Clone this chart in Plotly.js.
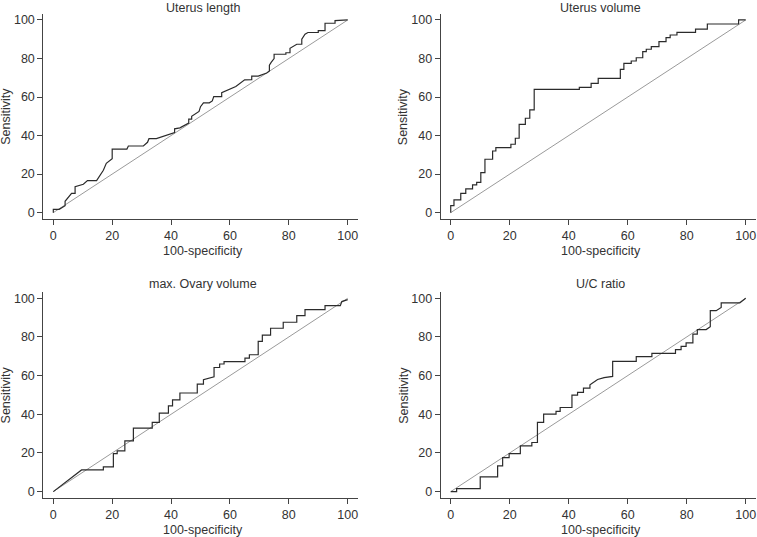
<!DOCTYPE html>
<html>
<head>
<meta charset="utf-8">
<script src="https://cdn.plot.ly/plotly-3.0.1.min.js"></script>
<style>html,body{margin:0;padding:0;background:#fff;}#chart{width:757px;height:537px;}</style>
</head>
<body>
<div id="chart"></div>
<script>
// ---- Data ----
const panelTitles = ["Uterus length", "Uterus volume", "max. Ovary volume", "U/C ratio"];
const xTitle = "100-specificity";
const yTitle = "Sensitivity";
const tickVals = [0, 20, 40, 60, 80, 100];
const refX = [0, 100];
const refY = [0, 100];

// Uterus length ROC (100-specificity, sensitivity)
const lengthX = [0,0,2,4,4,6.2,7.4,7.4,10.2,11.6,14.7,17,18,19.6,20,20,25,25.5,30.6,32,32.5,35,40,41.2,41.2,43,46,46,47,47,49.5,50,51,53,54,54.5,57.2,57.2,62,65,67.4,67.4,69.6,72.5,73.4,73.4,74,75,75,79,79,80.4,80.4,82.7,84.4,84.4,85.5,86.5,90,90,92.3,92.3,95.7,95.7,100];
const lengthY = [0,1.7,1.7,3.6,5.9,10,10,13.5,14.7,16.6,16.6,22,25.6,27.7,28,33,33,34.6,34.6,36.5,38.4,38.4,41,41.5,43.5,44,46.5,48.5,48.5,50,52.5,55,57,57,58,60.2,60.2,62.3,65.5,68.9,69,70.9,70.9,72.5,73.5,76.5,78,80,82.2,82.2,83,83,85.3,87.4,87.4,90,92.6,93.5,93.5,94.5,94.5,98.3,98.3,99.7,100];

// Uterus volume ROC (step points, horizontal then vertical)
const volumeX = [0,0,1.1,3.4,5.1,7.4,8.8,10.2,11.6,14.2,15.3,20.4,21.9,23.2,25.3,26.8,28.3,43.6,47.6,50,57.5,58.7,61.2,62.9,65.1,66.3,68,70.6,73,74.4,76.7,83,87,97.6,100];
const volumeY = [0,3.6,6.6,10,12.3,14.4,15.7,20.8,27.7,32,33.7,35.5,38.6,45.8,49,53.3,64,65,67.1,69.7,74.4,77.5,78.7,80.4,83.6,84.8,86.2,88.8,90.8,92.2,93.6,95.2,97.9,100,100];

// max. Ovary volume ROC
const ovaryX = [0,9.6,17,17,20.4,20.4,21.7,21.7,24.3,24.3,27.2,27.2,33.6,33.6,36,36,39.1,39.1,40.5,40.5,43,43,48.9,48.9,51,51,54.6,54.6,56.5,56.5,58,58,65.1,65.1,66.6,66.6,69.6,69.6,71,71,73.8,73.8,78.1,78.1,82.7,82.7,85.5,85.5,92.3,92.3,97.5,98,100];
const ovaryY = [0,11.2,11.2,12.8,12.8,19.7,19.7,21.1,21.1,26.3,26.3,32.8,32.8,35.8,35.8,40.6,40.6,44.4,44.4,47.5,47.5,51,51,55.6,55.6,57.9,59.4,64.2,64.2,66,66,67.2,67.2,69.1,69.1,70.8,70.8,77.7,77.7,81,81,84.5,84.5,87.6,87.6,91,91,94.1,94.1,96.2,96.2,98.3,99.3];

// U/C ratio ROC
const ratioX = [0,2,2,10,10,15.9,15.9,17.6,17.6,19.8,19.8,23.6,23.6,27.5,27.5,29.4,29.4,31.5,31.5,35.7,35.7,37.1,37.1,41.1,41.1,43,43,45,45,47.2,47.2,49.8,52,54.9,54.9,62.9,62.9,68.2,68.2,76.2,76.2,78.1,78.1,79.8,79.8,82.1,82.1,83.6,83.6,86.6,88,88,90,91.7,91.7,98,100];
const ratioY = [0,0,1.6,1.6,7.6,7.6,13.3,13.3,17.6,17.6,19.7,19.7,23.7,23.7,25.4,25.4,35.8,35.8,40.1,40.1,41.5,41.5,43.5,43.5,49.9,49.9,51.3,51.3,53.5,53.5,55.3,58,59,59.6,67.4,67.4,69.8,69.8,71.5,71.5,73.4,73.4,75.1,75.1,76.9,76.9,81.5,81.5,83.8,83.8,85.3,93.6,93.6,95.3,97.6,97.6,100];

// ---- Layout helpers ----
const W = 757, H = 537;
const px = v => v / W;
const py = v => 1 - v / H;
const curveColor = "#2b2b2b";
const refColor = "#9a9a9a";
const textColor = "#333333";
const font = {family: "Liberation Sans, Arial, sans-serif", size: 12.5, color: textColor};

const series = [[lengthX, lengthY, "linear"], [volumeX, volumeY, "hv"], [ovaryX, ovaryY, "linear"], [ratioX, ratioY, "linear"]];
const traces = [];
series.forEach((s, i) => {
  const ax = i === 0 ? "" : String(i + 1);
  traces.push({x: refX, y: refY, xaxis: "x" + ax, yaxis: "y" + ax, mode: "lines",
    line: {color: refColor, width: 1}, hoverinfo: "skip", showlegend: false});
  traces.push({x: s[0], y: s[1], xaxis: "x" + ax, yaxis: "y" + ax, mode: "lines",
    line: {color: curveColor, width: 1.2, shape: s[2]}, showlegend: false});
});

const colsPx = [[43.3, 358.3], [440.7, 756.3]];
const rowsPx = [[14, 219], [292.3, 498]];

const layout = {
  width: W, height: H,
  margin: {l: 0, r: 0, t: 0, b: 0},
  paper_bgcolor: "#fff", plot_bgcolor: "#fff",
  font: font,
  showlegend: false,
  annotations: []
};

for (let i = 0; i < 4; i++) {
  const c = colsPx[i % 2], r = rowsPx[Math.floor(i / 2)];
  const ax = i === 0 ? "" : String(i + 1);
  const common = {
    showgrid: false, zeroline: false, showline: true, linecolor: "#444", linewidth: 1,
    ticks: "outside", ticklen: 5, tickwidth: 1, tickcolor: "#444",
    tickvals: tickVals, ticktext: tickVals.map(String), tickfont: font, fixedrange: true
  };
  layout["xaxis" + ax] = Object.assign({}, common, {
    domain: [px(c[0]), px(c[1])], range: [-3.4, 103.6], anchor: "y" + ax
  });
  layout["yaxis" + ax] = Object.assign({}, common, {
    domain: [py(r[1]), py(r[0])], range: [-3.3, 103.1], anchor: "x" + ax
  });
  const cx = (c[0] + c[1]) / 2 + 2;
  // panel title (top row kept just inside the page edge)
  const titleY = Math.max(r[0] - 8.8, 7.5);
  layout.annotations.push({text: panelTitles[i], xref: "paper", yref: "paper",
    x: px(cx), y: py(titleY), xanchor: "center", yanchor: "middle", showarrow: false, font: font});
  // x title
  layout.annotations.push({text: xTitle, xref: "paper", yref: "paper",
    x: px(cx), y: py(r[1] + 32), xanchor: "center", yanchor: "middle", showarrow: false, font: font});
  // y title
  layout.annotations.push({text: yTitle, xref: "paper", yref: "paper",
    x: px(c[0] - 37), y: py((r[0] + r[1]) / 2), xanchor: "center", yanchor: "middle",
    textangle: -90, showarrow: false, font: font});
}

Plotly.newPlot("chart", traces, layout, {displayModeBar: false, staticPlot: true});
</script>
</body>
</html>
